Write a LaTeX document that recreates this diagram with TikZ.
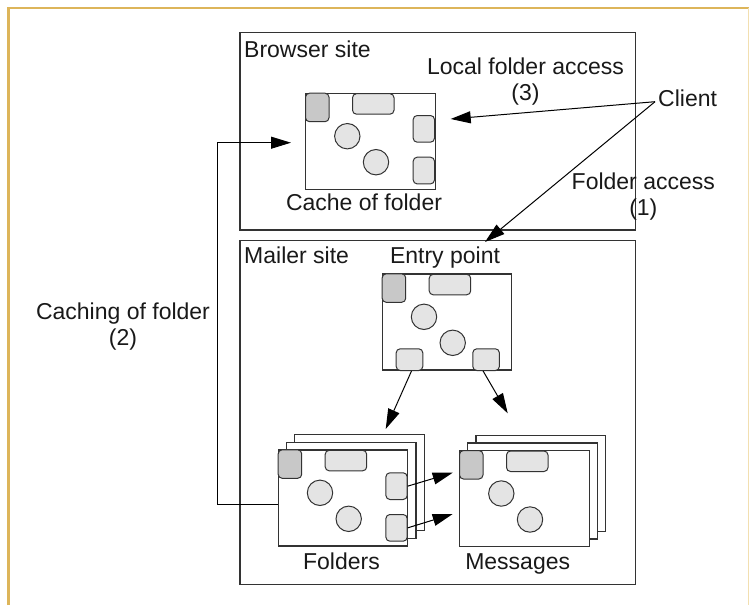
\documentclass[tikz,border=0pt]{standalone}
\usepackage{fontspec}
\setmainfont{Liberation Sans}
\usetikzlibrary{arrows.meta,calc}

\definecolor{framegold}{HTML}{DDB55A}
\definecolor{framepale}{HTML}{F2DFB0}
\definecolor{inkline}{HTML}{333333}
\definecolor{blockdark}{HTML}{C8C8C8}
\definecolor{blocklight}{HTML}{E4E4E4}

\tikzset{
  site/.style={draw=inkline, line width=1.3pt},
  panel/.style={draw=inkline, fill=white, line width=1.2pt, inner sep=0pt,
    minimum width=129.5pt, minimum height=96pt, anchor=north west},
  darkblk/.style={draw=inkline, fill=blockdark, rounded corners=4pt, line width=1pt,
    inner sep=0pt, minimum width=23.5pt, minimum height=28.5pt, anchor=north west},
  lightblk/.style={draw=inkline, fill=blocklight, rounded corners=4pt, line width=1pt,
    inner sep=0pt, anchor=north west},
  disk/.style={draw=inkline, fill=blocklight, circle, line width=1pt,
    inner sep=0pt, minimum size=25.4pt},
  lbl/.style={font=\fontsize{23}{26}\selectfont, text=black!90, inner sep=0pt, align=center},
  arr/.style={draw=black, line width=1pt, -{Triangle[length=20pt,width=12pt]}},
}

% one window: frame, grey corner tab, wide top tab and two round items
\newcommand{\winpanel}[3]{%
  \node[panel] (#1) at (#2,#3) {};
  \node[darkblk] (#1-d) at (#1.north west) {};
  \node[lightblk, minimum width=41.5pt, minimum height=20.5pt] (#1-l)
    at ([xshift=47pt,yshift=-0.5pt]#1.north west) {};
  \node[disk] (#1-c1) at ([xshift=42.3pt,yshift=-43.5pt]#1.north west) {};
  \node[disk] (#1-c2) at ([xshift=71pt,yshift=-69.5pt]#1.north west) {};
}
% extra page sheets behind a window
\newcommand{\backsheets}[3]{%
  \node[panel] (#1-p2) at ($(#2,#3)+(16.3,-15.5)$) {};
  \node[panel] (#1-p1) at ($(#2,#3)+(8.1,-7.7)$) {};
}

\begin{document}
\begin{tikzpicture}[x=1pt, y=-1pt]
  \useasboundingbox (0,0) rectangle (749,605);

  % page frame
  \draw[framegold, line width=2.6pt] (8.6,605) -- (8.6,8) -- (749,8);
  \draw[framepale, line width=1pt] (748.3,8) -- (748.3,605);

  % sites
  \node[site, inner sep=0pt, minimum width=395.7pt, minimum height=197.6pt, anchor=north west]
    (browser) at (239.3,31.7) {};
  \node[site, inner sep=0pt, minimum width=395.7pt, minimum height=344pt, anchor=north west]
    (mailer) at (239.3,240) {};

  \node[lbl, anchor=base west] (browserlbl) at (244,57) {Browser site};
  \node[lbl, anchor=base west] (mailerlbl) at (244,263.3) {Mailer site};

  % cache in the browser
  \winpanel{C}{305}{92.7}
  \node[lightblk, minimum width=21.3pt, minimum height=26.7pt] (C-r1) at (412.7,115) {};
  \node[lightblk, minimum width=21.3pt, minimum height=26.7pt] (C-r2) at (412.7,156.7) {};
  \node[lbl, anchor=base] (cachelbl) at (364,210) {Cache of folder};

  % entry point
  \winpanel{E}{381.7}{273.3}
  \node[lightblk, minimum width=26.6pt, minimum height=21.7pt] (E-b1) at (395.7,348.3) {};
  \node[lightblk, minimum width=26.6pt, minimum height=21.7pt] (E-b2) at (472.3,348.3) {};
  \node[lbl, anchor=base] (entrylbl) at (445,263.3) {Entry point};

  % folders
  \backsheets{F}{277.7}{449.3}
  \winpanel{F}{277.7}{449.3}
  \node[lightblk, minimum width=21.3pt, minimum height=26.7pt] (F-r1) at (385.4,472.3) {};
  \node[lightblk, minimum width=21.3pt, minimum height=26.7pt] (F-r2) at (385.4,514) {};
  \node[lbl, anchor=base] (folderslbl) at (341.5,569.3) {Folders};

  % messages
  \backsheets{M}{459}{450}
  \winpanel{M}{459}{450}
  \node[lbl, anchor=base] (messageslbl) at (517.7,569.3) {Messages};

  % labels of the accesses (anchored at the baseline of their last line)
  \node[lbl, anchor=base west] (client) at (658,106) {Client};
  \node[lbl, anchor=base] (localacc) at (525.5,100) {Local folder access\\(3)};
  \node[lbl, anchor=base] (folderacc) at (643.3,215) {Folder access\\(1)};
  \node[lbl, anchor=base] (cachingacc) at (123,345) {Caching of folder\\(2)};

  % connector ends
  \coordinate (clientpt) at (655,101.7);
  \coordinate (localtip) at (450.7,119);
  \coordinate (entrytip) at (485,242);
  \coordinate (cachetip) at (291,142.7);
  \coordinate (loopx) at (217,0);
  \coordinate (ftip) at (385.7,429);
  \coordinate (mtip) at (507.7,413.3);
  \coordinate (m1tip) at (452.7,472.7);
  \coordinate (m2tip) at (452.7,514);

  % client accesses
  \draw[arr] (clientpt) -- (localtip);
  \draw[arr] (clientpt) -- (entrytip);

  % caching of the folder into the browser
  \draw[arr] ([yshift=-7pt]F.west) -- ([yshift=-7pt]F.west -| loopx) |- (cachetip);

  % entry point to folders and messages
  \draw[arr] ([xshift=2pt]E-b1.south) -- (ftip);
  \draw[arr] ([xshift=-3pt]E-b2.south) -- (mtip);

  % folders to messages
  \draw[arr] (F-r1.east) -- (m1tip);
  \draw[arr] (F-r2.east) -- (m2tip);
\end{tikzpicture}
\end{document}
